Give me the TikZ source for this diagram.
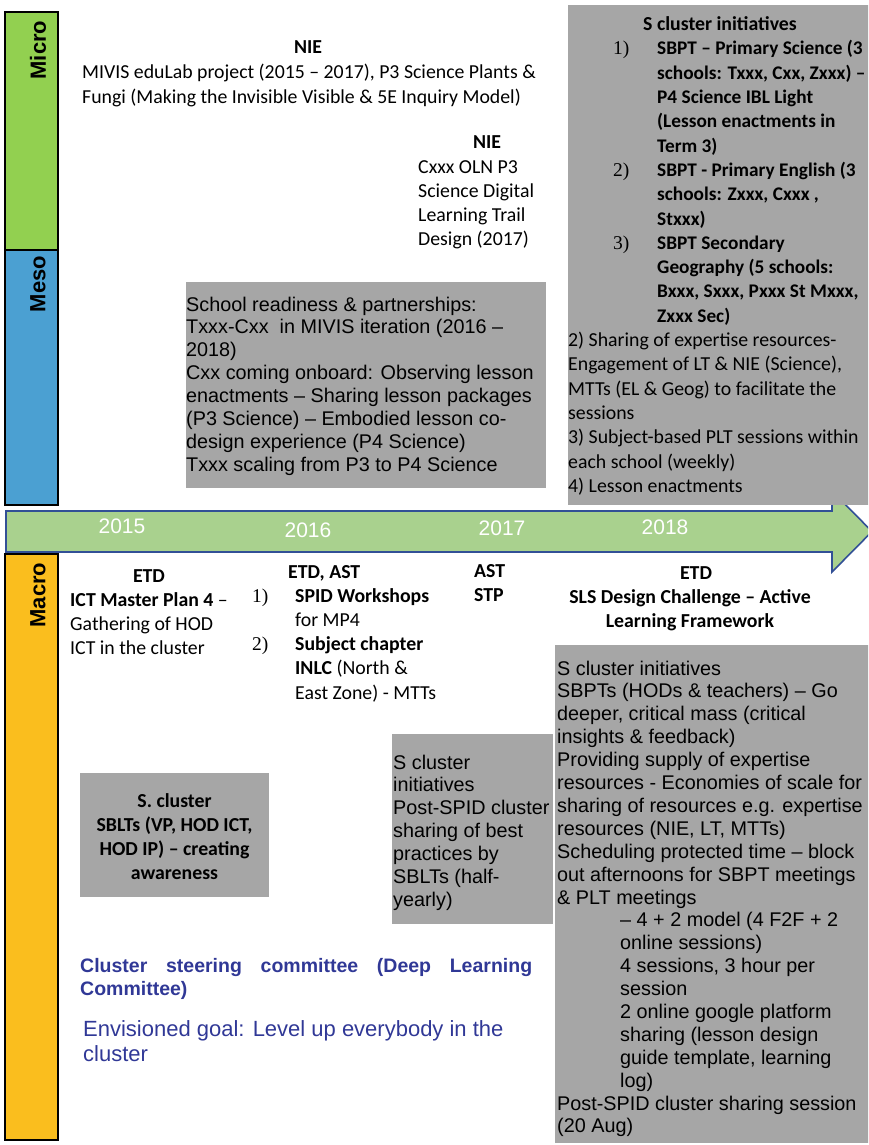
\documentclass[tikz,border=0pt]{standalone}
\usepackage{fontspec}
\setmainfont{Carlito}
\newfontfamily\arialf{Liberation Sans}
\newfontfamily\timesf{Liberation Serif}
\definecolor{boxgray}{RGB}{166,166,166}
\definecolor{microgreen}{RGB}{146,208,80}
\definecolor{mesoblue}{RGB}{75,160,210}
\definecolor{macroyellow}{RGB}{250,190,30}
\definecolor{tlgreen}{RGB}{169,209,142}
\definecolor{tlborder}{RGB}{50,80,150}
\definecolor{bluetext}{RGB}{48,56,150}
\newcommand\tleft[1]{\begin{minipage}[t]{500pt}\raggedright #1\end{minipage}}
\newcommand\tcent[1]{\begin{minipage}[t]{340pt}\centering #1\end{minipage}}
\begin{document}
\begin{tikzpicture}[x=1pt,y=-1pt,
  cal/.style={font=\fontsize{19.8}{24.3}\selectfont, inner sep=0pt, anchor=base west},
  calb/.style={cal, font=\fontsize{19.8}{24.3}\selectfont\bfseries},
  ari/.style={font=\arialf\fontsize{19.8}{22.9}\selectfont, inner sep=0pt, anchor=base west},
  num/.style={font=\timesf\fontsize{19.5}{24.3}\selectfont, inner sep=0pt, anchor=base west},
  year/.style={font=\arialf\fontsize{21}{24}\selectfont, text=white, inner sep=0pt},
  level/.style={draw=black, line width=1.6pt},
  levellabel/.style={font=\arialf\bfseries\fontsize{22}{24}\selectfont, rotate=90, inner sep=0pt},
  graybox/.style={fill=boxgray, draw=none}]
\useasboundingbox (0,0) rectangle (868,1145);
\clip (0,0) rectangle (868,1145);
% level bars
\path[level, fill=microgreen] (5,12) rectangle (58,250);
\path[level, fill=mesoblue] (5,250) rectangle (58,505);
\path[level, fill=macroyellow] (5,554) rectangle (58,1140);
\node[levellabel] (micro) at (38,50) {Micro};
\node[levellabel] (meso) at (38,284) {Meso};
\node[levellabel] (macro) at (38,595) {Macro};
% timeline arrow
\path[fill=tlgreen, draw=tlborder, line width=1.6pt, line join=miter]
  (6,511) -- (832,511) -- (832,491) -- (872,531.5) -- (832,572) -- (832,552) -- (6,552) -- cycle;
\node[year] (y2015) at (122,526) {2015};
\node[year] (y2016) at (308,530) {2016};
\node[year] (y2017) at (502,528) {2017};
\node[year] (y2018) at (665,527) {2018};
% gray boxes
\path[graybox] (568,5) rectangle (870,505);
\path[graybox] (186,282) rectangle (546,488);
\path[graybox] (80,773) rectangle (269,897);
\path[graybox] (392,734) rectangle (553,924);
\path[graybox] (555,645) rectangle (870,1143);
% micro texts
\node[calb, anchor=base] (nie1) at (308,54) {NIE};
\node[cal] (mivis) at (82,79) {\tleft{MIVIS eduLab project (2015 – 2017), P3 Science Plants \&\\Fungi (Making the Invisible Visible \& 5E Inquiry Model)}};
\node[calb, anchor=base] (nie2) at (487,149) {NIE};
\node[cal] (oln) at (418,173) {\tleft{Cxxx OLN P3\\Science Digital\\Learning Trail\\Design (2017)}};
% top right box
\node[calb] (scl) at (643,31) {S cluster initiatives};
\node[num] (n1) at (613,55) {1)};
\node[num] (n2) at (613,176.5) {2)};
\node[num] (n3) at (613,249.4) {3)};
\node[calb, font=\fontsize{19.3}{24.3}\selectfont\bfseries] (items) at (657,55) {\tleft{SBPT – Primary Science (3\\schools: Txxx, Cxx, Zxxx) –\\P4 Science IBL Light\\(Lesson enactments in\\Term 3)\\SBPT - Primary English (3\\schools: Zxxx, Cxxx ,\\Stxxx)\\SBPT Secondary\\Geography (5 schools:\\Bxxx, Sxxx, Pxxx St Mxxx,\\Zxxx Sec)}};
\node[cal] (share) at (568,346.6) {\tleft{2) Sharing of expertise resources-\\Engagement of LT \& NIE (Science),\\MTTs (EL \& Geog) to facilitate the\\sessions\\3) Subject-based PLT sessions within\\each school (weekly)\\4) Lesson enactments}};
% meso box text
\node[ari] (ready) at (186,311) {\tleft{School readiness \& partnerships:\\Txxx-Cxx\ \ in MIVIS iteration (2016 –\\2018)\\Cxx coming onboard: Observing lesson\\enactments – Sharing lesson packages\\(P3 Science) – Embodied lesson co-\\design experience (P4 Science)\\Txxx scaling from P3 to P4 Science}};
% macro texts
\node[calb, anchor=base] (etd1) at (149,582) {ETD};
\node[cal] (ict) at (70,606) {\tleft{\textbf{ICT Master Plan 4} –\\Gathering of HOD\\ICT in the cluster}};
\node[calb] (etdast) at (288,578) {ETD, AST};
\node[num] (m1) at (252,602) {1)};
\node[num] (m2) at (252,650) {2)};
\node[cal] (spid) at (295,602) {\tleft{\textbf{SPID Workshops}\\for MP4\\\textbf{Subject chapter}\\\textbf{INLC} (North \&\\East Zone) - MTTs}};
\node[calb] (aststp) at (474,577) {\tleft{AST\\STP}};
\node[calb, anchor=base] (etd2) at (696,579) {ETD};
\node[calb, anchor=base] (sls) at (690,603) {\tcent{SLS Design Challenge – Active\\Learning Framework}};
% macro boxes text
\node[calb, anchor=base] (sblt) at (174.5,807) {\tcent{S. cluster\\SBLTs (VP, HOD ICT,\\HOD IP) – creating\\awareness}};
\node[ari] (postspid) at (393,769) {\tleft{S cluster\\initiatives\\Post-SPID cluster\\sharing of best\\practices by\\SBLTs (half-\\yearly)}};
\node[ari] (bigA) at (557,675) {\tleft{S cluster initiatives\\SBPTs (HODs \& teachers) – Go\\deeper, critical mass (critical\\insights \& feedback)\\Providing supply of expertise\\resources - Economies of scale for\\sharing of resources e.g. expertise\\resources (NIE, LT, MTTs)\\Scheduling protected time – block\\out afternoons for SBPT meetings\\\& PLT meetings}};
\node[ari] (bigB) at (620,926.9) {\tleft{– 4 + 2 model (4 F2F + 2\\online sessions)\\4 sessions, 3 hour per\\session\\2 online google platform\\sharing (lesson design\\guide template, learning\\log)}};
\node[ari] (bigC) at (557,1110) {\tleft{Post-SPID cluster sharing session\\(20 Aug)}};
% blue texts
\node[inner sep=0pt, anchor=base west, text=bluetext, font=\arialf\bfseries\fontsize{19.5}{23}\selectfont] (steer) at (80,972)
  {\begin{minipage}[t]{452pt}Cluster steering committee (Deep Learning\linebreak Committee)\end{minipage}};
\node[ari, text=bluetext, font=\arialf\fontsize{22}{25}\selectfont] (goal) at (83,1036) {\tleft{Envisioned goal: Level up everybody in the\\cluster}};
\end{tikzpicture}
\end{document}
